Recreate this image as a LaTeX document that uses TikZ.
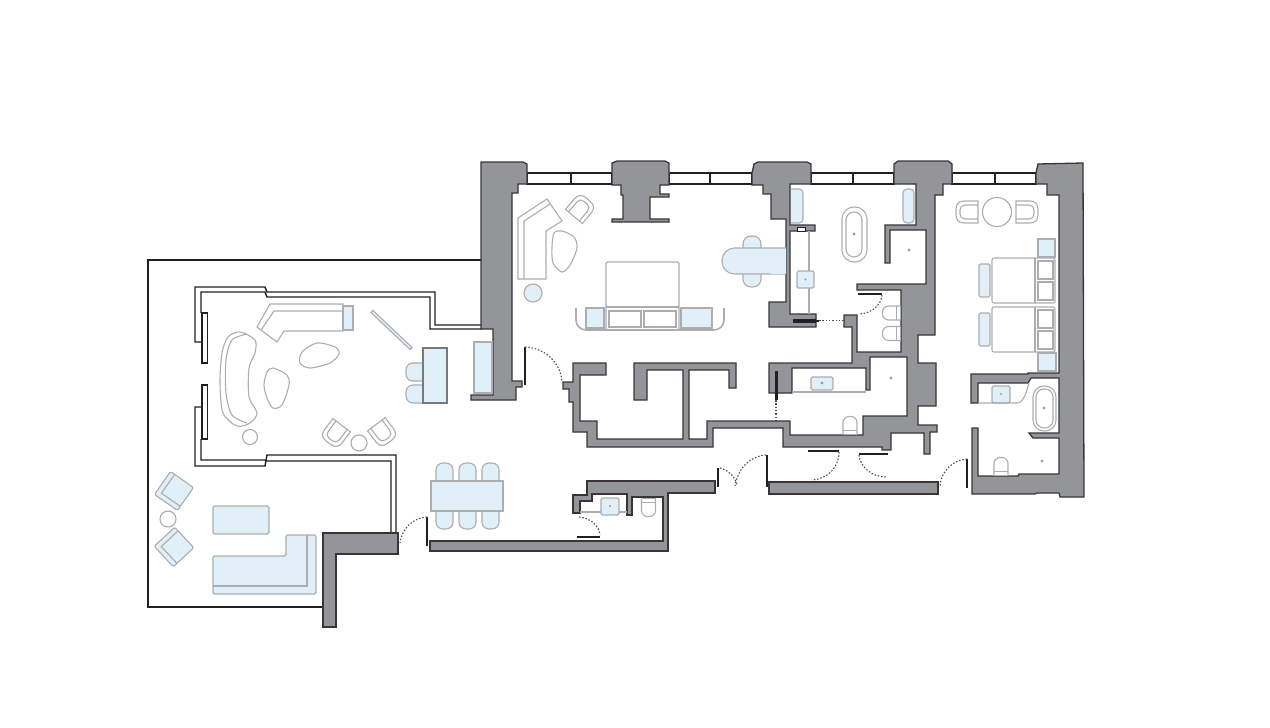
\documentclass[tikz,border=0pt]{standalone}
\usepackage{xcolor}
\usetikzlibrary{arrows.meta}
\definecolor{wallgrey}{HTML}{939598}
\definecolor{softblue}{HTML}{E1EFF9}
\definecolor{linegrey}{HTML}{ABADB0}
\definecolor{inkblack}{HTML}{231F20}
\begin{document}
\begin{tikzpicture}[x=1pt,y=-1pt,
    wall/.style = {draw=inkblack!90, fill=wallgrey, line width=1.3pt, line join=miter},
    glass/.style = {draw=inkblack, line width=1.4pt},
    pane/.style = {draw=inkblack, fill=white, line width=1.3pt},
    terrace/.style = {draw=inkblack, line width=2.1pt},
    leaf/.style = {draw=inkblack, line width=2pt},
    swing/.style = {draw=inkblack!80, line width=1.1pt, dash pattern=on 1.5pt off 1.8pt},
    furn/.style = {draw=linegrey, line width=1.1pt},
    cushion/.style = {furn, fill=softblue},
    tap/.style = {fill=linegrey!90!black},
    seat/.pic = {
      \draw[furn, fill=white] (11,-11) -- (-3,-11) .. controls (-8,-11) and (-11,-8) .. (-11,-3) -- (-11,3) .. controls (-11,8) and (-8,11) .. (-3,11) -- (11,11) -- cycle;
      \draw[furn] (11,-7) -- (-2,-7) .. controls (-5,-7) and (-7,-5) .. (-7,-2) -- (-7,2) .. controls (-7,5) and (-5,7) .. (-2,7) -- (11,7);
    },
    wcpan/.pic = {
      \draw[furn, rounded corners=6pt] (-7,9) -- (-7,-9) -- (7,-9) -- (7,9);
      \draw[furn] (-7,9) -- (7,9) (-7,5) -- (7,5);
    },
    loungeseat/.pic = {
      \draw[cushion, rounded corners=1.5pt] (-14,-14) rectangle (14,14);
      \draw[furn] (-9,-14) -- (-9,9) -- (14,9);
    }]
  \useasboundingbox (0,0) rectangle (1270,728);

  % terrace and glazed wall
  \draw[terrace] (481,260) -- (148,260) -- (148,607) -- (323,607);
  \draw[glass] (482,325) -- (435,325) -- (435,292) -- (267,292) -- (265,287) -- (195,287) -- (195,342) -- (201,342);
  \draw[glass] (482,329) -- (430,329) -- (430,297) -- (267,297) -- (265,292) -- (201,292) -- (201,313);
  \draw[glass] (201,439) -- (201,460) -- (265,460) -- (267,461) -- (391,461) -- (391,533);
  \draw[glass] (201,407) -- (195,407) -- (195,466) -- (265,466) -- (267,455) -- (396,455) -- (396,533);
  \draw[pane] (202,313) rectangle (207.5,363);
  \draw[pane] (202,385) rectangle (207.5,439);

  % windows
  \foreach \xa/\xb/\xc in {527/571/612, 669/710/752, 811/853/894, 952/995/1036} {
    \draw[pane] (\xa,173) rectangle (\xb,184);
    \draw[pane] (\xb,173) rectangle (\xc,184);
  }

  % walls
  \draw[wall] (481,162) -- (523,162) -- (527,164) -- (527,184) -- (518,184) -- (518,193) -- (512,193) -- (512,381) -- (522,381) -- (522,387) -- (516,387) -- (516,400) -- (471,400) -- (471,395) -- (493,395) -- (493,329) -- (481,329) -- cycle;
  \draw[wall] (612,163) -- (617,161) -- (665,161) -- (669,163) -- (669,185) -- (660,185) -- (660,194) -- (669,194) -- (669,197) -- (650,197) -- (650,219) -- (669,219) -- (669,222) -- (612,222) -- (612,219) -- (623,219) -- (623,195) -- (621,195) -- (621,185) -- (612,185) -- cycle;
  \draw[wall] (752,173) -- (754,164) -- (758,162) -- (807,162) -- (811,164) -- (811,184) -- (790,184) -- (790,225) -- (815,225) -- (815,231) -- (790,231) -- (790,314) -- (816,314) -- (816,327) -- (769,327) -- (769,302) -- (786,302) -- (786,219) -- (771,219) -- (771,194) -- (763,194) -- (763,185) -- (752,185) -- cycle;
  \draw[wall] (894,164) -- (898,161) -- (948,161) -- (952,164) -- (952,184) -- (943,184) -- (943,195) -- (935,195) -- (935,335) -- (918,335) -- (918,363) -- (936,363) -- (936,406) -- (918,406) -- (918,425) -- (937,425) -- (937,432) -- (930,432) -- (930,454) -- (924,454) -- (924,433) -- (891,433) -- (891,450) -- (882,450) -- (882,447) -- (783,447) -- (783,428) -- (713,428) -- (713,447) -- (587,447) -- (587,432) -- (573,432) -- (573,402) -- (569,402) -- (569,389) -- (563,389) -- (563,382) -- (573,382) -- (573,363) -- (606,363) -- (606,375) -- (580,375) -- (580,421) -- (597,421) -- (597,439) -- (683,439) -- (683,370) -- (647,370) -- (647,400) -- (634,400) -- (634,363) -- (736,363) -- (736,388) -- (729,388) -- (729,370) -- (689,370) -- (689,439) -- (707,439) -- (707,421) -- (790,421) -- (790,435) -- (863,435) -- (863,416) -- (907,416) -- (907,357) -- (870,357) -- (870,390) -- (866,390) -- (866,368) -- (792,368) -- (792,393) -- (769,393) -- (769,363) -- (852,363) -- (852,327) -- (844,327) -- (844,315) -- (857,315) -- (857,352) -- (901,352) -- (901,290) -- (857,290) -- (857,284) -- (926,284) -- (926,230) -- (890,230) -- (890,263) -- (885,263) -- (885,225) -- (916,225) -- (916,184) -- (894,184) -- cycle;
  \draw[wall] (1036,173) -- (1038,164) -- (1083,163) -- (1084,497) -- (1060,497) -- (1059,493) -- (1037,493) -- (1035,494) -- (972,494) -- (972,428) -- (978,428) -- (978,476) -- (1018,476) -- (1019,474) -- (1059,474) -- (1059,438) -- (1033,438) -- (1029,433) -- (1059,433) -- (1059,378) -- (1031,378) -- (1028,383) -- (978,383) -- (978,403) -- (971,403) -- (971,374) -- (1028,374) -- (1028,373) -- (1059,373) -- (1059,195) -- (1047,195) -- (1047,184) -- (1036,184) -- cycle;
  \draw[wall] (323,533) -- (398,533) -- (398,554) -- (336,554) -- (336,627) -- (323,627) -- cycle;
  \draw[wall] (587,481) -- (715,481) -- (715,493) -- (668,493) -- (668,551) -- (430,551) -- (430,541) -- (663,541) -- (663,497) -- (632,497) -- (632,515) -- (627,515) -- (627,494) -- (592,494) -- (592,501) -- (580,501) -- (580,513) -- (573,513) -- (573,495) -- (587,495) -- cycle;
  \draw[wall] (769,482) rectangle (938,494);

  % doors
  \draw[leaf] (525,347) -- (525,385);
  \draw[swing] (525,347) .. controls (545,348) and (560,362) .. (562,381);
  \draw[leaf] (427,517) -- (427,546);
  \draw[swing] (427,517) .. controls (413,518) and (402,528) .. (400,543);
  \draw[leaf] (577,537) -- (600,537);
  \draw[swing] (579,517) .. controls (590,518) and (599,525) .. (600,535);
  \draw[leaf] (718,468) -- (718,487);
  \draw[swing] (720,468) .. controls (728,470) and (735,476) .. (737,485);
  \draw[leaf] (766.5,455) -- (766.5,487);
  \draw[swing] (766,455) .. controls (750,456) and (738,468) .. (735,486);
  \draw[leaf] (808,451) -- (839,451);
  \draw[swing] (839,452) .. controls (839,468) and (827,479) .. (812,480);
  \draw[leaf] (859,454) -- (888,454);
  \draw[swing] (859,455) .. controls (860,467) and (872,477) .. (886,477);
  \draw[leaf] (967,459) -- (967,488);
  \draw[swing] (967,459) .. controls (952,460) and (941,472) .. (940,486);
  \draw[leaf] (858,294) -- (882,294);
  \draw[swing] (882,295) .. controls (881,306) and (871,313) .. (860,314);
  \draw[line width=4pt, draw=inkblack] (793,320.5) -- (816,320.5);
  \draw[leaf] (816,320.5) -- (819,320.5);
  \draw[swing] (819,320.5) -- (844,320.5);
  \draw[line width=3pt, draw=inkblack] (776,371) -- (776,400);
  \draw[swing] (776,400) -- (776,421);

  % living room
  \draw[furn] (257,327) -- (270,304) -- (343,304) -- (343,331) -- (284,331) -- (277,342) -- cycle;
  \draw[furn] (261,330) -- (274,311) -- (342,311);
  \draw[cushion] (343,306) rectangle (353,330);
  \draw[cushion] (371,312.5) -- (373,310.5) -- (412,347.5) -- (410,349.5) -- cycle;
  \draw[furn] plot[smooth cycle] coordinates {(240,332) (255,340) (255,353) (249,368) (249,397) (257,413) (250,423) (237,426) (223,413) (220,383) (222,353) (228,337)};
  \draw[furn] plot[smooth] coordinates {(247,334) (232,340) (226,360) (226,393) (232,415) (247,423)};
  \draw[furn] plot[smooth cycle] coordinates {(317,343) (335,347) (339,354) (330,363) (310,368) (300,363) (302,352)};
  \draw[furn] plot[smooth cycle] coordinates {(273,368) (287,375) (289,385) (282,405) (273,408) (267,398) (264,385) (267,372)};
  \draw[furn] (250,437) circle (7.5);
  \pic[rotate=53] at (335,434) {seat};
  \pic[rotate=127] at (383,433) {seat};
  \draw[furn, fill=white] (359,443) circle (8);
  \draw[cushion, rounded corners=7pt] (423,363) -- (406,363) -- (406,381) -- (423,381);
  \draw[cushion, rounded corners=7pt] (423,385) -- (406,385) -- (406,403) -- (423,403);
  \draw[cushion, draw=linegrey!70!black] (423,348) rectangle (447,403);
  \draw[cushion] (474,342) rectangle (492,393);

  % terrace furniture
  \pic[rotate=-35] at (174,491) {loungeseat};
  \pic[rotate=-47] at (174,547) {loungeseat};
  \draw[furn] (168,519) circle (8);
  \draw[cushion, rounded corners=1.5pt] (213,506) rectangle (269,534);
  \draw[cushion, rounded corners=1.5pt] (213,556) -- (286,556) -- (286,535) -- (316,535) -- (316,594) -- (213,594) -- cycle;
  \draw[furn] (213,586) -- (307,586) -- (307,535);

  % dining
  \foreach \xa in {436,459,482} {
    \draw[cushion, rounded corners=7pt] (\xa,482) -- (\xa,463) -- (\xa+17,463) -- (\xa+17,482);
    \draw[cushion, rounded corners=7pt] (\xa,511) -- (\xa,529) -- (\xa+17,529) -- (\xa+17,511);
  }
  \draw[cushion] (431,481) rectangle (503,511);

  % main bedroom
  \draw[furn] (518,218) -- (547,199) -- (562,221) -- (546,231) -- (546,279) -- (518,279) -- cycle;
  \draw[furn] (550,204) -- (524,221) -- (524,279);
  \draw[furn] plot[smooth cycle] coordinates {(562,231) (574,237) (577,248) (570,265) (562,272) (553,263) (552,247) (554,233)};
  \draw[cushion] (533,293) circle (9);
  \pic[rotate=230] at (581,208) {seat};
  \draw[furn, rounded corners=1.5pt] (606,262) rectangle (679,330);
  \draw[furn] (606,307) -- (679,307);
  \draw[furn] (609,311) rectangle (641,327);
  \draw[furn] (644,311) rectangle (676,327);
  \draw[cushion] (586,308) rectangle (604,328);
  \draw[cushion] (681,308) rectangle (712,328);
  \draw[furn, line width=1.6pt, rounded corners=10pt] (576,308) -- (576,330) -- (724,330) -- (724,308);
  \draw[cushion, rounded corners=8pt] (761,236) rectangle (743,287);
  \draw[cushion, rounded corners=12.5pt] (786,248) -- (722,248) -- (722,274) -- (786,274);
  \fill[softblue] (744,249) rectangle (760,273);
  \fill[softblue] (770,248.5) rectangle (785,273.5);

  % main bathroom
  \draw[cushion, rounded corners=4pt] (791,223) -- (803,223) -- (803,189) -- (791,189);
  \draw[cushion, rounded corners=4pt] (903,223) -- (914,223) -- (914,189) -- (903,189) -- cycle;
  \draw[furn, rounded corners=12pt] (842,207) rectangle (867,262);
  \draw[furn, rounded corners=8pt] (846,212) rectangle (862,257);
  \fill[tap] (854,234) circle (1.6);
  \fill[tap] (909,250) circle (1.6);
  \draw[furn] (809,231) -- (809,314);
  \draw[cushion, rounded corners=1.5pt] (797,271) rectangle (814,288);
  \fill[tap] (805.5,279.5) circle (1.2);
  \draw[pane, line width=.7pt] (797,227) rectangle (805,231);
  \pic[rotate=90] at (891.5,313) {wcpan};
  \pic[rotate=90] at (891.5,333.5) {wcpan};

  % shower room
  \draw[cushion, rounded corners=1.5pt] (811,377) rectangle (833,390);
  \draw[furn] (792,392) -- (866,392);
  \fill[tap] (822,383) circle (1.6);
  \fill[tap] (891,378) circle (1.6);
  \pic at (850,425.5) {wcpan};

  % powder room
  \draw[cushion, rounded corners=1.5pt] (601,498) rectangle (619,515);
  \draw[furn] (580,512) -- (601,512) (619,512) -- (627,512);
  \fill[tap] (610,506) circle (1.2);
  \pic[rotate=180] at (648.5,507.5) {wcpan};

  % second bedroom
  \pic at (967,212) {seat};
  \pic[rotate=180] at (1027,212) {seat};
  \draw[furn] (997,212) circle (14.5);
  \draw[cushion] (1038,239) rectangle (1055,257);
  \draw[cushion] (1038,353) rectangle (1056,371);
  \foreach \ya in {258,307} {
    \draw[furn, rounded corners=2pt] (992,\ya) rectangle (1055,\ya+45);
    \draw[furn] (1035,\ya) -- (1035,\ya+45);
    \draw[furn] (1038,\ya+3) rectangle (1053,\ya+21);
    \draw[furn] (1038,\ya+24) rectangle (1053,\ya+42);
    \draw[cushion, rounded corners=1.5pt] (979,\ya+6) rectangle (990,\ya+39);
  }

  % second bathroom
  \draw[cushion, rounded corners=1.5pt] (992,386) rectangle (1010,403);
  \fill[tap] (1001,394) circle (1.2);
  \draw[furn] (978,403) -- (1018,403) .. controls (1024,402) and (1027,390) .. (1029,383);
  \draw[furn, rounded corners=11pt] (1033,386) rectangle (1056,431);
  \draw[furn, rounded corners=8pt] (1036,389) rectangle (1053,428);
  \fill[tap] (1044,408) circle (1.6);
  \fill[tap] (1042,461) circle (1.6);
  \pic at (1001,466.5) {wcpan};
\end{tikzpicture}
\end{document}
